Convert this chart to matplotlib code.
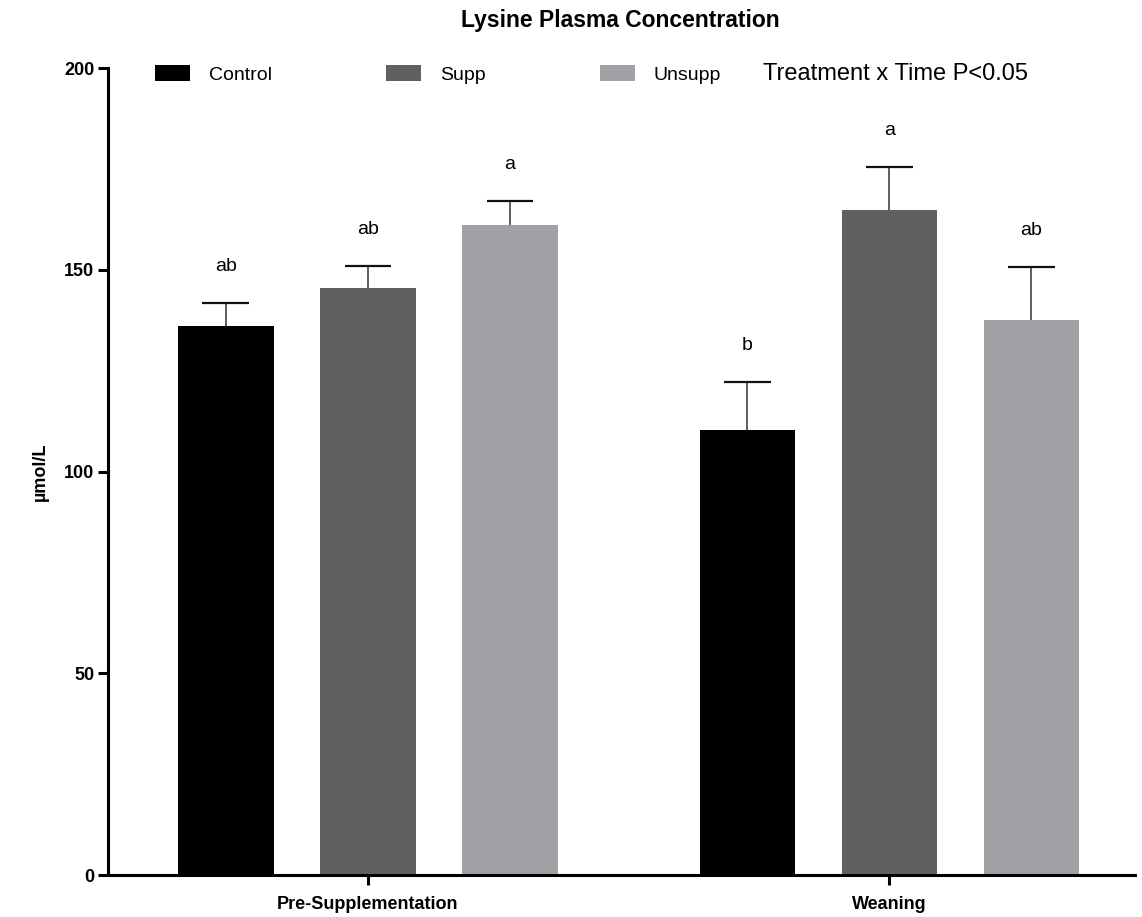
import matplotlib
matplotlib.use('Agg')
import matplotlib.pyplot as plt
import numpy as np
from matplotlib.patches import Patch

plt.rcParams['font.family'] = ['Liberation Sans', 'DejaVu Sans']

# Lysine plasma values (µmol/L), mean and SEM per treatment and time point
timepoints = ['Pre-Supplementation', 'Weaning']
treatments = ['Control', 'Supp', 'Unsupp']
means = {
    'Control': [136.1, 110.3],
    'Supp':    [145.5, 164.8],
    'Unsupp':  [161.1, 137.5],
}
sems = {
    'Control': [5.7, 11.9],
    'Supp':    [5.4, 10.7],
    'Unsupp':  [5.9, 13.2],
}
letters = {
    'Control': ['ab', 'b'],
    'Supp':    ['ab', 'a'],
    'Unsupp':  ['a', 'ab'],
}
colors = {'Control': '#000000', 'Supp': '#606060', 'Unsupp': '#a1a1a5'}

fig = plt.figure(figsize=(11.42, 9.17), dpi=100)
ax = fig.add_axes([0.0946, 0.0458, 0.8993, 0.88])

group_x = np.array([0.0, 3.67])
width = 0.67
cap = 0.165
for i, t in enumerate(treatments):
    xs = group_x + (i - 1)
    m = np.array(means[t])
    s = np.array(sems[t])
    ax.bar(xs, m, width=width, color=colors[t], zorder=2)
    # upper-only SEM whiskers
    ax.vlines(xs, m, m + s, color='#333333', linewidth=1.1, zorder=3)
    ax.hlines(m + s, xs - cap, xs + cap, color='#111111', linewidth=1.6, zorder=3)
    for x, top, lab in zip(xs, m + s, letters[t]):
        ax.text(x, top + 7, lab, ha='center', va='bottom', fontsize=14)

ax.set_xlim(-1.83, 5.40)
ax.set_ylim(0, 200)
ax.set_yticks([0, 50, 100, 150, 200])
ax.set_xticks(group_x)
ax.set_xticklabels(timepoints, fontsize=13, fontweight='bold')
for lab in ax.get_yticklabels():
    lab.set_fontweight('bold')
    lab.set_fontsize(13)
ax.tick_params(axis='both', width=2.2, length=7, direction='out', pad=3)
ax.tick_params(axis='x', pad=8)

for side in ['top', 'right']:
    ax.spines[side].set_visible(False)
for side in ['left', 'bottom']:
    ax.spines[side].set_linewidth(2.2)

ax.set_ylabel('µmol/L', fontsize=13, fontweight='bold', labelpad=11)
fig.text(0.543, 0.978, 'Lysine Plasma Concentration', ha='center', va='center',
         fontsize=16.5, fontweight='bold')

handles = [Patch(facecolor=colors[t]) for t in treatments]
ax.legend(handles, treatments, ncol=3, frameon=False, fontsize=14,
          loc='center left', bbox_to_anchor=(0.046, 0.992),
          handlelength=1.8, handleheight=0.88, handletextpad=0.95,
          columnspacing=5.9, borderaxespad=0, borderpad=0)
ax.text(0.638, 0.992, 'Treatment x Time P<0.05', transform=ax.transAxes,
        ha='left', va='center', fontsize=17)

fig.savefig('out.png', dpi=100)
